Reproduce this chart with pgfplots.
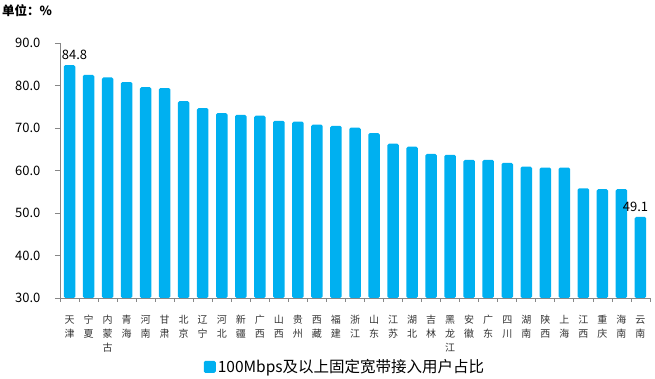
\documentclass[border=0pt]{standalone}
\usepackage{fontspec}
\setmainfont{Noto Sans CJK SC}
\usepackage{pgfplots}
\pgfplotsset{compat=1.18}
\definecolor{barblue}{RGB}{0,176,240}
\definecolor{axgray}{RGB}{134,134,134}
\begin{document}
\begin{tikzpicture}
\begin{axis}[
  scale only axis, width=590pt, height=255pt,
  xmin=-0.5, xmax=30.5, ymin=30, ymax=90,
  axis x line*=bottom, axis y line*=left,
  axis line style={axgray, line width=0.8pt, -},
  ytick={30,40,...,90},
  yticklabel style={/pgf/number format/fixed, /pgf/number format/fixed zerofill, /pgf/number format/precision=1, /pgf/number format/assume math mode=true, font=\fontsize{13}{15}\selectfont, xshift=-11pt},
  tick align=outside,
  major tick length=5pt,
  tick style={axgray, line width=0.8pt},
  xtick={0,...,30},
  major x tick style={draw=none},
  minor xtick={-0.5,0.5,...,30.5},
  minor tick length=4pt,
  xticklabels={{天\\津},{宁\\夏},{内\\蒙\\古},{青\\海},{河\\南},{甘\\肃},{北\\京},{辽\\宁},{河\\北},{新\\疆},{广\\西},{山\\西},{贵\\州},{西\\藏},{福\\建},{浙\\江},{山\\东},{江\\苏},{湖\\北},{吉\\林},{黑\\龙\\江},{安\\徽},{广\\东},{四\\川},{湖\\南},{陕\\西},{上\\海},{江\\西},{重\\庆},{海\\南},{云\\南}},
  xticklabel style={align=center, font=\fontsize{10}{14}\selectfont, anchor=north, yshift=-9pt, text=black!80},
  legend style={at={(0.483,-0.27)}, anchor=center, draw=none, font=\fontsize{15.5}{17}\selectfont, legend columns=-1},
  legend image code/.code={\fill[barblue] (0pt,-6pt) rectangle (12pt,6pt);},
]
\addplot[ybar, bar width=11.5pt, bar shift=0pt, fill=barblue, draw=none, rounded corners=1.5pt] coordinates {
(0,84.8) (1,82.5) (2,81.9) (3,80.8) (4,79.6) (5,79.4) (6,76.3) (7,74.7) (8,73.5) (9,73.1)
(10,72.9) (11,71.7) (12,71.5) (13,70.8) (14,70.5) (15,70.1) (16,68.8) (17,66.3) (18,65.6) (19,63.9)
(20,63.7) (21,62.5) (22,62.5) (23,61.8) (24,60.9) (25,60.7) (26,60.7) (27,55.8) (28,55.6) (29,55.6)
(30,49.1)};
\addlegendentry{100Mbps及以上固定宽带接入用户占比}
\addplot[ybar, bar width=11.5pt, bar shift=0pt, draw=none, fill=none, forget plot,
  nodes near coords, every node near coord/.append style={font=\fontsize{13}{15}\selectfont, xshift=5pt, yshift=2pt, /pgf/number format/fixed, /pgf/number format/fixed zerofill, /pgf/number format/precision=1, /pgf/number format/assume math mode=true}] coordinates {(0,84.8)};
\addplot[ybar, bar width=11.5pt, bar shift=0pt, draw=none, fill=none, forget plot,
  nodes near coords, every node near coord/.append style={font=\fontsize{13}{15}\selectfont, xshift=-5pt, yshift=2pt, /pgf/number format/fixed, /pgf/number format/fixed zerofill, /pgf/number format/precision=1, /pgf/number format/assume math mode=true}] coordinates {(30,49.1)};
\end{axis}
\node[anchor=north west, font=\bfseries\fontsize{12.5}{14}\selectfont, inner sep=0pt] at (-58pt,294pt) {单位：\%};
\pgfresetboundingbox
\path (-60pt,-81pt) rectangle (595pt,298pt);
\end{tikzpicture}
\end{document}
